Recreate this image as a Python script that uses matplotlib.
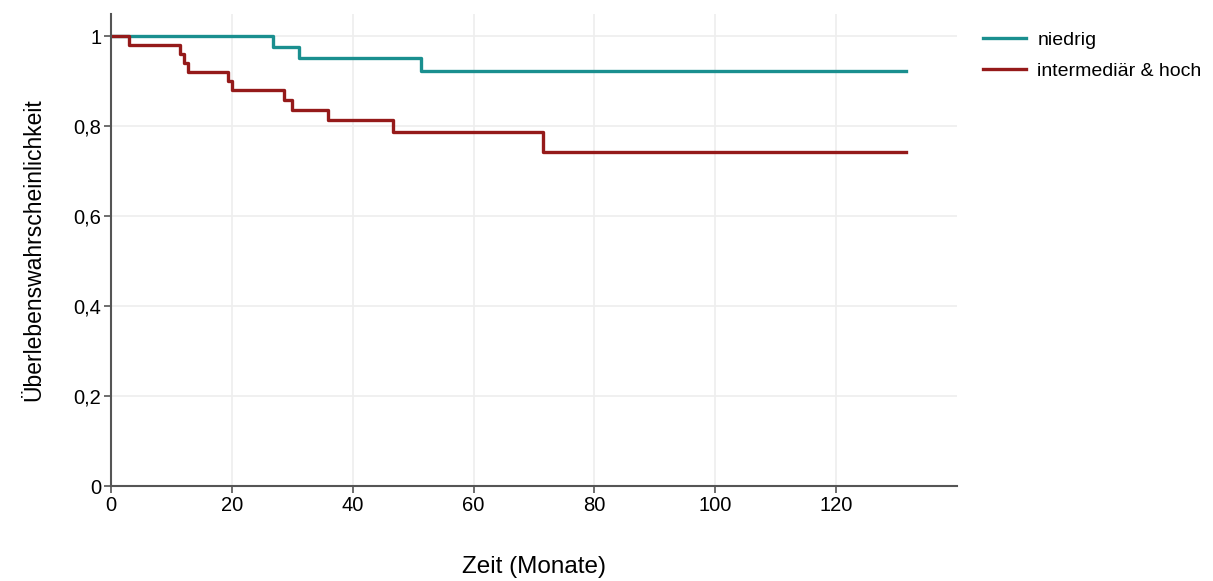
import matplotlib.pyplot as plt
from matplotlib.ticker import FuncFormatter

plt.rcParams["font.family"] = ["Liberation Sans", "DejaVu Sans"]

# Kaplan-Meier steps
niedrig_t = [0, 26.8, 31.1, 51.3, 131.6]
niedrig_s = [1.0, 0.977, 0.953, 0.923, 0.923]

hoch_t = [0, 3.0, 11.4, 12.0, 12.7, 19.4, 20.1, 28.6, 30.0, 35.9, 46.7, 71.5, 131.6]
hoch_s = [1.0, 0.98, 0.96, 0.94, 0.92, 0.90, 0.88, 0.859, 0.837, 0.814, 0.787, 0.742, 0.742]

labels = ["niedrig", "intermediär & hoch"]
colors = ["#1a8f8f", "#951a1a"]

fig = plt.figure(figsize=(12.13, 5.81), dpi=100)
ax = fig.add_axes([0.0915, 0.1635, 0.6975, 0.8125])

ax.step(niedrig_t, niedrig_s, where="post", color=colors[0], lw=2.4, label=labels[0])
ax.step(hoch_t, hoch_s, where="post", color=colors[1], lw=2.4, label=labels[1])

ax.set_xlim(0, 140)
ax.set_ylim(0, 1.05)
ax.set_xticks([0, 20, 40, 60, 80, 100, 120])
ax.set_yticks([0, 0.2, 0.4, 0.6, 0.8, 1.0])
ax.yaxis.set_major_formatter(FuncFormatter(lambda v, p: "0" if v == 0 else ("1" if v == 1 else f"{v:.1f}".replace(".", ","))))

ax.grid(True, color="#eeeeee", lw=1.2)
ax.set_axisbelow(True)
for s in ["top", "right"]:
    ax.spines[s].set_visible(False)
for s in ["left", "bottom"]:
    ax.spines[s].set_color("#555555")
    ax.spines[s].set_linewidth(1.5)
ax.tick_params(colors="#555555", labelcolor="black", labelsize=14.5, length=5, width=1.2, pad=2)

ax.set_xlabel("Zeit (Monate)", fontsize=17.5, labelpad=30)
ax.set_ylabel("Überlebenswahrscheinlichkeit", fontsize=16.5, labelpad=20)

ax.legend(loc="upper left", bbox_to_anchor=(1.01, 1.0), frameon=False, fontsize=14,
          handlelength=2.2, handletextpad=0.6, labelspacing=0.7)

fig.savefig("out.png", dpi=100)
